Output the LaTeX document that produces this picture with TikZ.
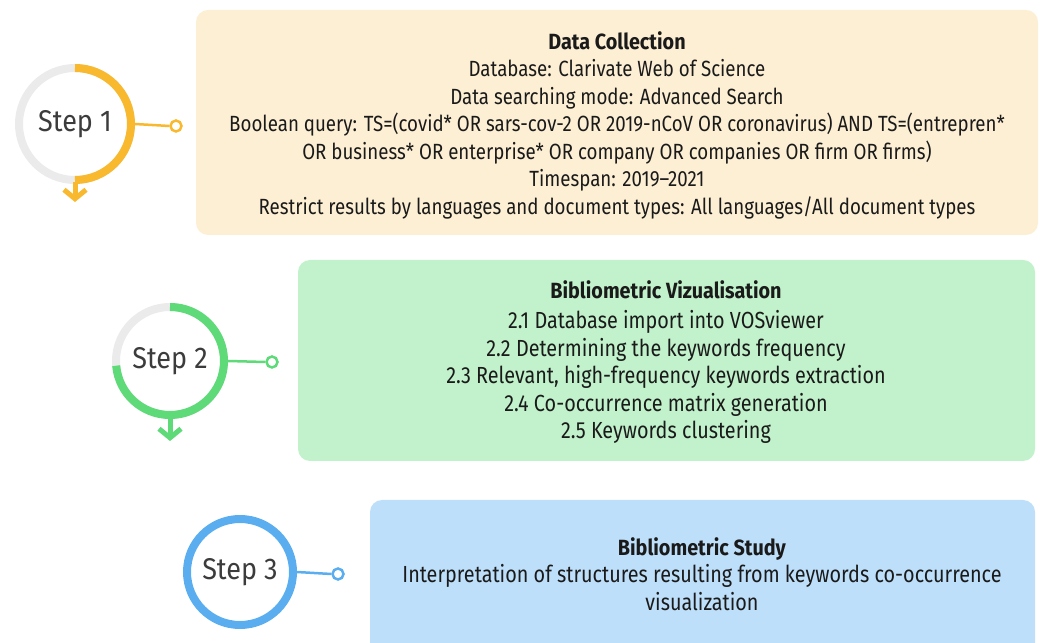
\documentclass[tikz,border=0pt]{standalone}
\usepackage{fontspec}
\setmainfont{Fira Sans}[FakeStretch=0.85, BoldFeatures={FakeStretch=0.9}]
\newfontfamily\stepfont{Fira Sans}[FakeStretch=0.9]
\usetikzlibrary{arrows.meta}
\definecolor{boxA}{HTML}{FDEFD4}
\definecolor{boxB}{HTML}{C2F2CB}
\definecolor{boxC}{HTML}{BEDFFA}
\definecolor{ringA}{HTML}{F9B92F}
\definecolor{ringB}{HTML}{5EDB78}
\definecolor{ringC}{HTML}{5AAEF0}
\definecolor{ringbg}{HTML}{EBEBEB}
\definecolor{steptext}{HTML}{3C3C3C}
\definecolor{bodytext}{HTML}{1A1A1A}
\newcommand{\titlesize}{\fontsize{22}{27.5}\selectfont}
\tikzset{
  panel/.style={rounded corners=12pt, draw=none},
  paneltext/.style={align=center, text=bodytext, font=\fontsize{22}{27.5}\selectfont, inner sep=0pt},
  widetext/.style={paneltext, font=\fontsize{23.3}{27.5}\selectfont},
  steplabel/.style={circle, minimum size=112pt, inner sep=0pt, text=steptext, font=\stepfont\fontsize{30}{32}\selectfont},
  ring/.style={line width=8pt},
  joint/.style={circle, minimum size=11pt, inner sep=0pt, line width=2.5pt, fill=white},
  link/.style={line width=2.5pt},
  downarrow/.style={line width=5pt, -{Straight Barb[length=9pt,width=22pt,line width=5pt]}},
}
\begin{document}
\begin{tikzpicture}[x=1pt,y=1pt]
\useasboundingbox (0,0) rectangle (1040,642);

% panels
\fill[panel, boxA] (196,407) rectangle (1038,632);
\fill[panel, boxB] (298,181) rectangle (1035,382);
\fill[panel, boxC] (370,-20) rectangle (1035,142);

% panel texts
\node[paneltext] (t1) at (617,517) {\textbf{Data Collection}\\
Database: Clarivate Web of Science\\
Data searching mode: Advanced Search\\
Boolean query: TS=(covid* OR sars-cov-2 OR 2019-nCoV OR coronavirus) AND TS=(entrepren*\\
OR business* OR enterprise* OR company OR companies OR firm OR firms)\\
Timespan: 2019--2021\\
Restrict results by languages and document types: All languages/All document types};

\node[widetext] (t2) at (666,280) {{\titlesize\textbf{Bibliometric Vizualisation}}\\[3pt]
2.1 Database import into VOSviewer\\
2.2 Determining the keywords frequency\\
2.3 Relevant, high-frequency keywords extraction\\
2.4 Co-occurrence matrix generation\\
2.5 Keywords clustering};

\node[widetext] (t3) at (702,68) {{\titlesize\textbf{Bibliometric Study}}\\
Interpretation of structures resulting from keywords co-occurrence\\
visualization};

% step 1
\node[steplabel] (s1) at (75,518) {Step 1};
\draw[ring, ringbg] (s1.center) circle[radius=56pt];
\draw[ring, ringA] (s1.center) ++(90:56pt) arc[start angle=90, end angle=-90, radius=56pt];
\node[joint, draw=ringA] (j1) at (176,516) {};
\draw[link, ringA] (s1.center) ++(0:60pt) -- (j1.west);
\coordinate (a1) at (75,440);
\draw[downarrow, ringA] (s1.center) ++(0,-58pt) -- (a1);

% step 2
\node[steplabel] (s2) at (170,281) {Step 2};
\draw[ring, ringbg] (s2.center) circle[radius=54pt];
\draw[ring, ringB] (s2.center) ++(90:54pt) arc[start angle=90, end angle=-175, radius=54pt];
\node[joint, draw=ringB] (j2) at (272,280) {};
\draw[link, ringB] (s2.center) ++(0:58pt) -- (j2.west);
\coordinate (a2) at (170,201);
\draw[downarrow, ringB] (s2.center) ++(0,-56pt) -- (a2);

% step 3
\node[steplabel] (s3) at (240,70) {Step 3};
\draw[ring, ringC] (s3.center) circle[radius=53pt];
\node[joint, draw=ringC] (j3) at (338,68) {};
\draw[link, ringC] (s3.center) ++(0:57pt) -- (j3.west);
\end{tikzpicture}
\end{document}
